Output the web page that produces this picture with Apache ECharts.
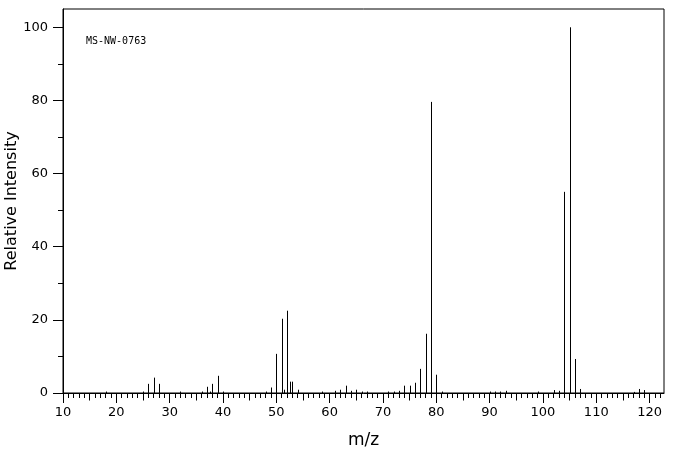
<!DOCTYPE html>
<html>
<head>
<meta charset="utf-8">
<script src="https://cdn.jsdelivr.net/npm/echarts@6/dist/echarts.min.js"></script>
<style>html,body{margin:0;padding:0;background:#fff;}#c{width:676px;height:455px;}</style>
</head>
<body>
<div id="c"></div>
<script>
const mz = [18, 25, 26, 27, 28, 32, 36, 37, 37.5, 38, 39, 40, 48, 49, 50, 51, 51.5, 52, 52.5, 53, 54, 58.5, 61, 62, 63, 64, 65, 66, 67, 71, 72, 73, 74, 75, 76, 77, 78, 79, 80, 81, 90, 91, 92, 93, 99, 102, 103, 104, 105, 106, 107, 117, 118, 119];
const intensity = [0.4, 0.4, 2.5, 4.2, 2.5, 0.4, 0.4, 1.7, 0.4, 2.5, 4.7, 0.4, 0.4, 1.5, 10.7, 20.3, 0.9, 22.5, 3.1, 3.1, 0.9, 0.4, 0.6, 0.9, 2.0, 0.6, 0.9, 0.4, 0.4, 0.4, 0.4, 0.6, 2.0, 2.0, 2.8, 6.6, 16.2, 79.6, 5.0, 0.4, 0.4, 0.4, 0.4, 0.6, 0.4, 0.8, 0.6, 55.0, 100, 9.3, 1.1, 0.3, 1.1, 0.8];
const xTickLabels = [10, 20, 30, 40, 50, 60, 70, 80, 90, 100, 110, 120];
const yTickLabels = [0, 20, 40, 60, 80, 100];
const sampleId = 'MS-NW-0763';
const xTitle = 'm/z';
const yTitle = 'Relative Intensity';

const xMin = 10, xMax = 122.7, yMin = 0, yMax = 105;
const xFives = [], xOnes = [];
for (let v = 11; v <= 122; v++) { if (v % 10 === 5) xFives.push(v); else if (v % 5 !== 0) xOnes.push(v); }
const yMinor = [10, 30, 50, 70, 90];

const font = 'DejaVu Sans';
const lineStyle = {color: '#000', width: 1};
function xAx(ticks, len, labels, showLine, name) {
  return {
    type: 'value', min: xMin, max: xMax, position: 'bottom',
    axisLine: {show: showLine, lineStyle: lineStyle},
    axisTick: {show: true, customValues: ticks, length: len, lineStyle: lineStyle},
    axisLabel: labels ? {show: true, customValues: labels, margin: 13, color: '#000', fontFamily: font, fontSize: 13} : {show: false},
    splitLine: {show: false},
    name: name || '', nameLocation: 'middle', nameGap: 39,
    nameTextStyle: {color: '#000', fontFamily: font, fontSize: 17}
  };
}
function yAx(ticks, len, labels, showLine, name) {
  return {
    type: 'value', min: yMin, max: yMax, position: 'left',
    axisLine: {show: showLine, lineStyle: lineStyle},
    axisTick: {show: true, customValues: ticks, length: len, lineStyle: lineStyle},
    axisLabel: labels ? {show: true, customValues: labels, margin: 15, color: '#000', fontFamily: font, fontSize: 13} : {show: false},
    splitLine: {show: false},
    name: name || '', nameLocation: 'middle', nameGap: 43, nameMoveOverlap: false,
    nameTextStyle: {color: '#000', fontFamily: font, fontSize: 16}
  };
}

const chart = echarts.init(document.getElementById('c'), null, {renderer: 'canvas'});
chart.setOption({
  animation: false,
  backgroundColor: '#fff',
  grid: {left: 63, right: 12, top: 9, bottom: 62, show: true, borderColor: '#000', borderWidth: 1, backgroundColor: 'transparent', containLabel: false, outerBoundsMode: 'none'},
  xAxis: [
    xAx(xTickLabels, 10, xTickLabels, true, xTitle),
    xAx(xFives, 7.5, null, false),
    xAx(xOnes, 5, null, false)
  ],
  yAxis: [
    yAx(yTickLabels, 10, yTickLabels, true),
    yAx(yMinor, 5, null, false, yTitle)
  ],
  graphic: [{
    type: 'text', left: 86, top: 36,
    style: {text: sampleId, fill: '#000', font: '10px "DejaVu Sans Mono"'}
  }],
  series: [{
    type: 'custom',
    xAxisIndex: 0, yAxisIndex: 0,
    data: mz.map((m, i) => [m, intensity[i]]),
    renderItem: function (params, api) {
      const x = api.value(0), y = api.value(1);
      const p0 = api.coord([x, 0]);
      const p1 = api.coord([x, y]);
      const px = Math.round(p0[0]) + 0.5;
      return {type: 'line', shape: {x1: px, y1: p0[1], x2: px, y2: p1[1]}, style: {stroke: '#000', lineWidth: 1}};
    }
  }]
});
</script>
</body>
</html>
